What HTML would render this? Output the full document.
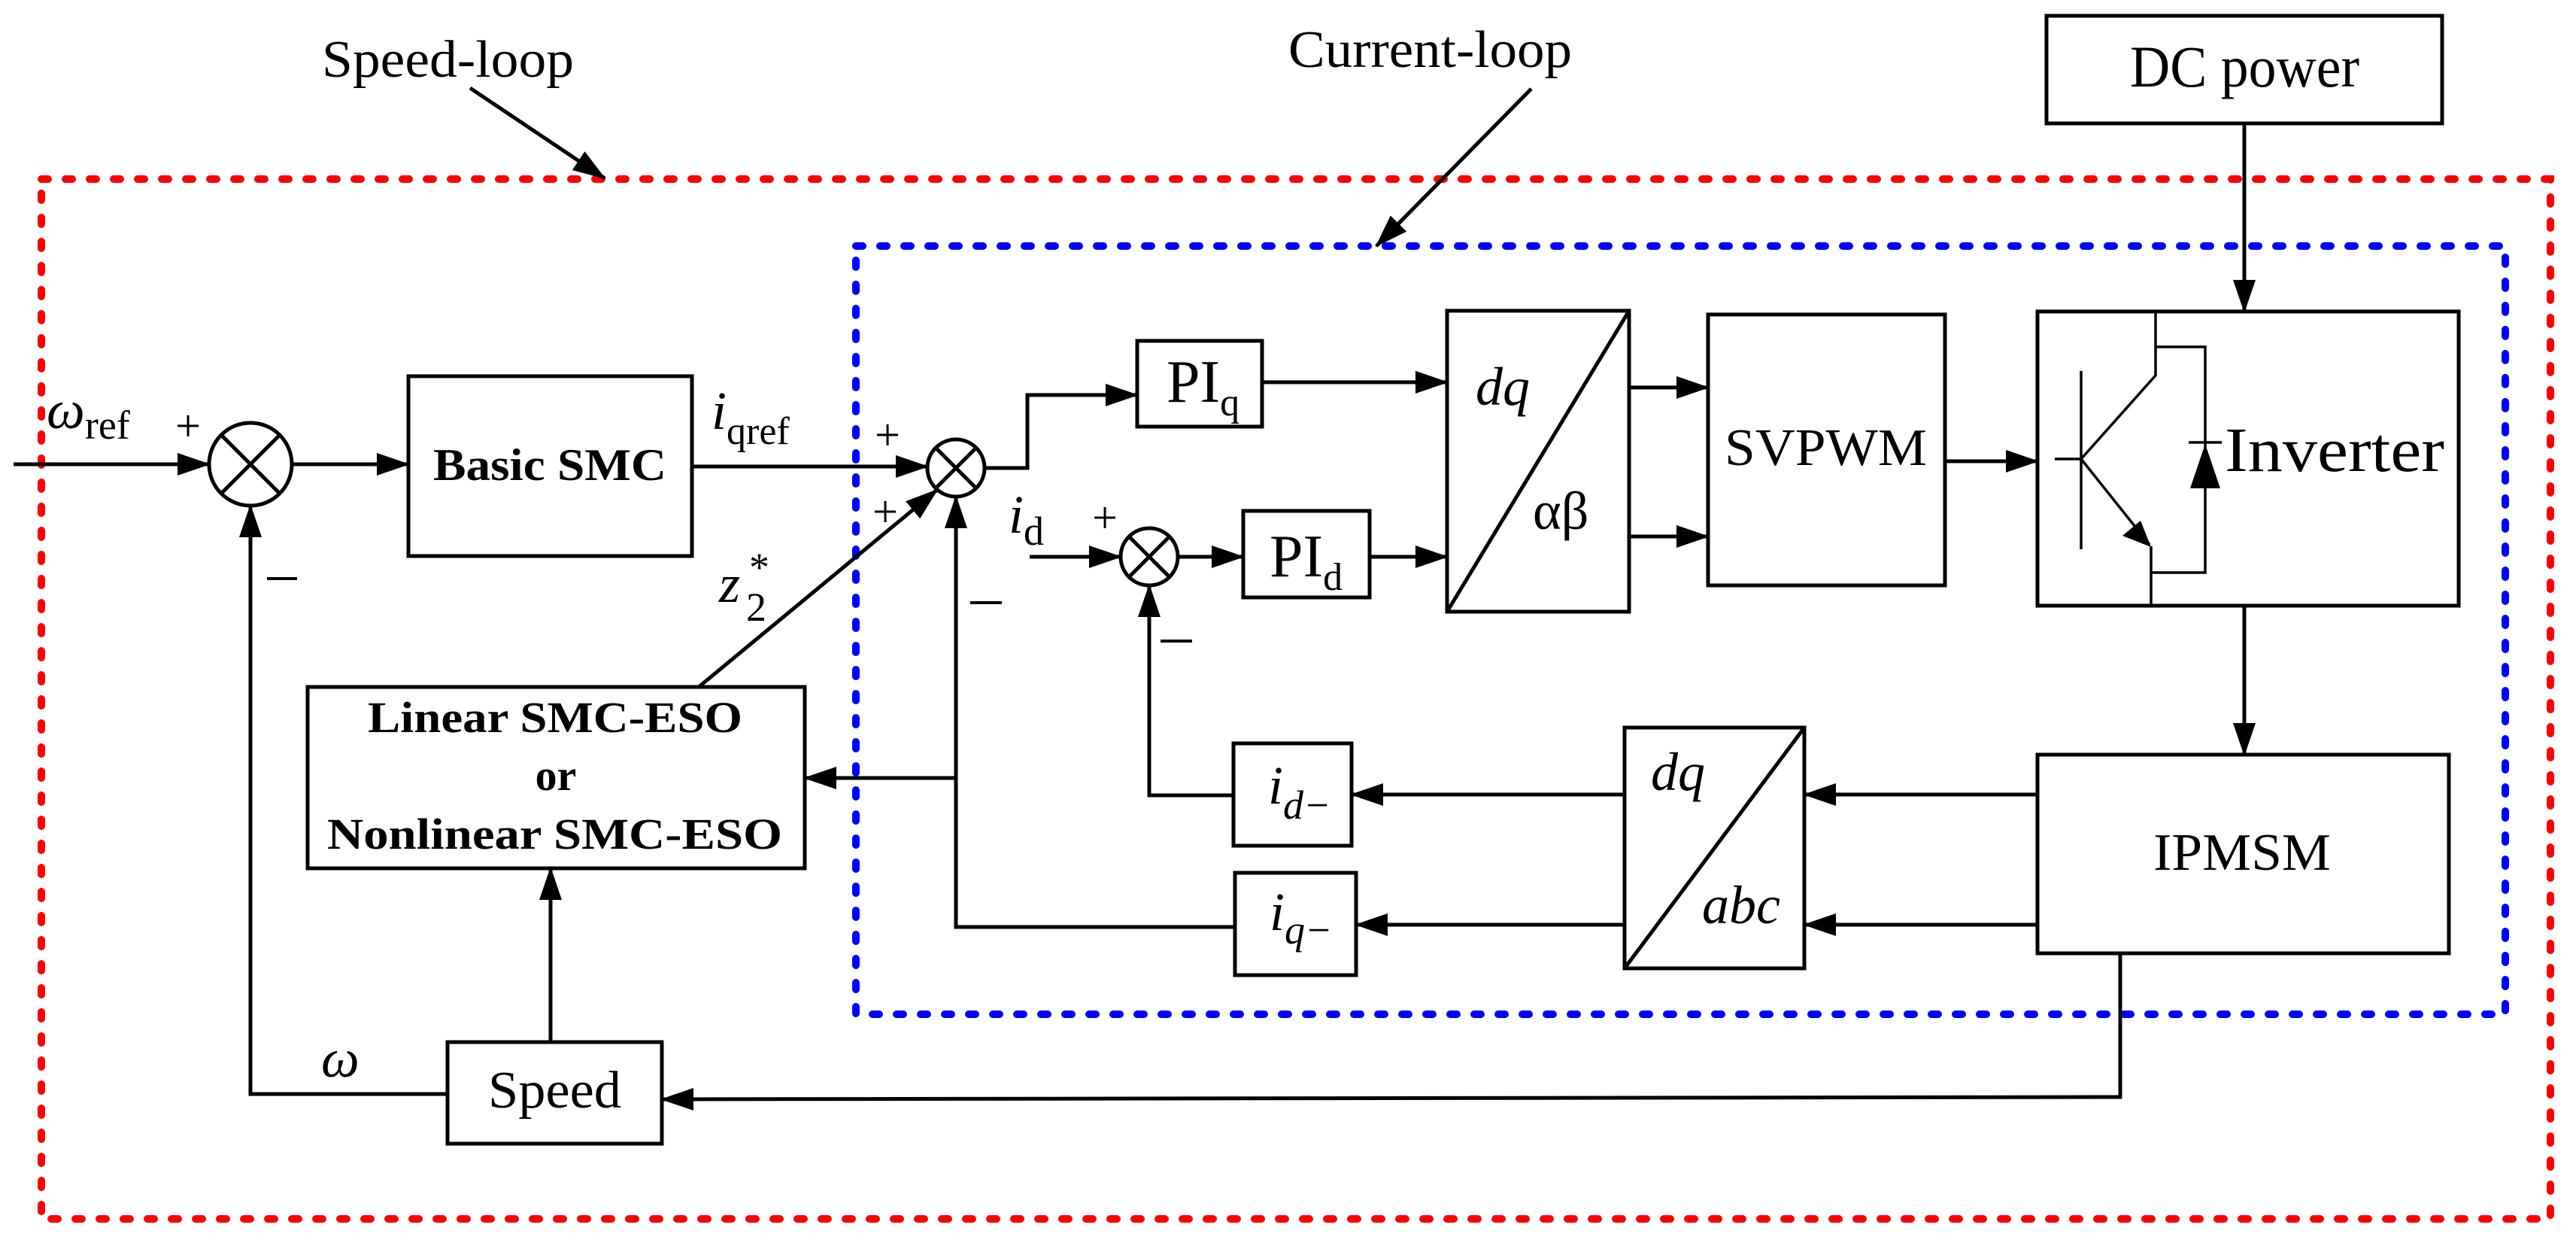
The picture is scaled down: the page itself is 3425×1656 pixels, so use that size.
<!DOCTYPE html>
<html><head><meta charset="utf-8"><style>html,body{margin:0;padding:0;background:#fff}svg{display:block}</style></head>
<body>
<svg width="3425" height="1656" viewBox="0 0 3425 1656" xmlns="http://www.w3.org/2000/svg" font-family="'Liberation Serif', serif">
<defs>
<marker id="a" markerUnits="userSpaceOnUse" markerWidth="44" markerHeight="30" refX="42" refY="15" orient="auto"><path d="M0,0 L44,15 L0,30 z" fill="#000"/></marker>
</defs>
<rect width="3425" height="1656" fill="#fff"/>
<rect x="55" y="238" width="3336" height="1382" fill="none" stroke="#f00" stroke-width="10" stroke-dasharray="9 23" stroke-linecap="round"/>
<rect x="1138" y="327" width="2193" height="1021" fill="none" stroke="#00f" stroke-width="10" stroke-dasharray="9 23" stroke-linecap="round"/>

<g stroke="#000" stroke-width="5" fill="none">
<line x1="625" y1="117" x2="804" y2="237" marker-end="url(#a)"/>
<line x1="2036" y1="118" x2="1830" y2="327" marker-end="url(#a)"/>
<rect x="543" y="500" width="377" height="239"/>
<rect x="409" y="913" width="661" height="241"/>
<rect x="595" y="1385" width="285" height="135"/>
<rect x="1512" y="453" width="166" height="114"/>
<rect x="1653" y="679" width="168" height="115"/>
<rect x="1924" y="413" width="242" height="400"/>
<line x1="1924" y1="813" x2="2166" y2="413"/>
<rect x="2271" y="418" width="315" height="360"/>
<rect x="2709" y="414" width="560" height="391"/>
<rect x="2721" y="21" width="526" height="143"/>
<rect x="2709" y="1003" width="547" height="264"/>
<rect x="2160" y="967" width="239" height="320"/>
<line x1="2160" y1="1287" x2="2399" y2="967"/>
<rect x="1640" y="988" width="157" height="136"/>
<rect x="1642" y="1160" width="161" height="136"/>
<circle cx="333" cy="617" r="55"/>
<line x1="294" y1="578" x2="372" y2="656"/><line x1="372" y1="578" x2="294" y2="656"/>
<circle cx="1271" cy="622" r="38"/>
<line x1="1244" y1="595" x2="1298" y2="649"/><line x1="1298" y1="595" x2="1244" y2="649"/>
<circle cx="1528" cy="740" r="38"/>
<line x1="1501" y1="713" x2="1555" y2="767"/><line x1="1555" y1="713" x2="1501" y2="767"/>
<line x1="18" y1="617" x2="278" y2="617" marker-end="url(#a)"/>
<line x1="388" y1="617" x2="543" y2="617" marker-end="url(#a)"/>
<line x1="920" y1="620" x2="1233" y2="620" marker-end="url(#a)"/>
<polyline points="1309,622 1366,622 1366,525 1512,525" marker-end="url(#a)"/>
<line x1="1678" y1="508" x2="1924" y2="508" marker-end="url(#a)"/>
<line x1="1369" y1="740" x2="1490" y2="740" marker-end="url(#a)"/>
<line x1="1566" y1="740" x2="1653" y2="740" marker-end="url(#a)"/>
<line x1="1821" y1="740" x2="1924" y2="740" marker-end="url(#a)"/>
<line x1="2166" y1="515" x2="2271" y2="515" marker-end="url(#a)"/>
<line x1="2166" y1="713" x2="2271" y2="713" marker-end="url(#a)"/>
<line x1="2586" y1="613" x2="2709" y2="613" marker-end="url(#a)"/>
<line x1="2984" y1="164" x2="2984" y2="414" marker-end="url(#a)"/>
<line x1="2984" y1="805" x2="2984" y2="1003" marker-end="url(#a)"/>
<line x1="2709" y1="1056" x2="2399" y2="1056" marker-end="url(#a)"/>
<line x1="2709" y1="1229" x2="2399" y2="1229" marker-end="url(#a)"/>
<line x1="2160" y1="1056" x2="1797" y2="1056" marker-end="url(#a)"/>
<line x1="2160" y1="1229" x2="1803" y2="1229" marker-end="url(#a)"/>
<polyline points="1640,1057 1528,1057 1528,778" marker-end="url(#a)"/>
<polyline points="1642,1232 1271,1232 1271,660" marker-end="url(#a)"/>
<line x1="1271" y1="1034" x2="1070" y2="1034" marker-end="url(#a)"/>
<line x1="929" y1="913" x2="1246" y2="651" marker-end="url(#a)"/>
<line x1="732" y1="1385" x2="732" y2="1154" marker-end="url(#a)"/>
<polyline points="595,1454 333,1454 333,672" marker-end="url(#a)"/>
<polyline points="2819,1267 2819,1458 880,1461" marker-end="url(#a)"/>
</g>
<g stroke="#000" stroke-width="3.5" fill="none">
<line x1="2767" y1="493" x2="2767" y2="730"/>
<line x1="2732" y1="610" x2="2767" y2="610"/>
<polyline points="2767,610 2866,499 2866,414"/>
<polyline points="2866,461 2932,461 2932,761 2860,761"/>
<line x1="2767" y1="610" x2="2858" y2="724"/>
<line x1="2860" y1="726" x2="2860" y2="805"/>
<line x1="2910" y1="588" x2="2954" y2="588"/>
</g>
<path d="M2912,649 L2952,649 L2932,590 z" fill="#000"/>
<path d="M2860,727 L2822,712 L2846,692 z" fill="#000"/>

<g fill="#000" font-size="70">
<text x="428" y="102" textLength="335" lengthAdjust="spacingAndGlyphs">Speed-loop</text>
<text x="1713" y="89" textLength="377" lengthAdjust="spacingAndGlyphs">Current-loop</text>
<text x="2832" y="115" font-size="78" textLength="305" lengthAdjust="spacingAndGlyphs">DC power</text>
<text x="2293" y="618" textLength="269" lengthAdjust="spacingAndGlyphs">SVPWM</text>
<text x="2958" y="626" font-size="84" textLength="292" lengthAdjust="spacingAndGlyphs">Inverter</text>
<text x="2863" y="1156" textLength="236" lengthAdjust="spacingAndGlyphs">IPMSM</text>
<text x="649" y="1472" textLength="177" lengthAdjust="spacingAndGlyphs">Speed</text>
<text x="576" y="638" font-size="60" font-weight="bold" textLength="310" lengthAdjust="spacingAndGlyphs">Basic SMC</text>
<text x="489" y="973" font-size="58" font-weight="bold" textLength="498" lengthAdjust="spacingAndGlyphs">Linear SMC-ESO</text>
<text x="739" y="1050" font-size="58" font-weight="bold" text-anchor="middle">or</text>
<text x="435" y="1128" font-size="58" font-weight="bold" textLength="605" lengthAdjust="spacingAndGlyphs">Nonlinear SMC-ESO</text>
<text x="1551" y="534" font-size="80">PI<tspan font-size="52" dy="18">q</tspan></text>
<text x="1688" y="766" font-size="80">PI<tspan font-size="52" dy="18">d</tspan></text>
<text x="1962" y="538" font-style="italic" font-size="72">dq</text>
<text x="2038" y="703" font-size="72">αβ</text>
<text x="2195" y="1050" font-style="italic" font-size="72">dq</text>
<text x="2263" y="1227" font-style="italic" font-size="72">abc</text>
<text x="1686" y="1068" font-style="italic" font-size="72">i<tspan font-size="54" dy="20">d−</tspan></text>
<text x="1688" y="1236" font-style="italic" font-size="72">i<tspan font-size="54" dy="18">q−</tspan></text>
<text x="62" y="569" font-style="italic" font-size="72">ω<tspan font-style="normal" font-size="54" dy="14">ref</tspan></text>
<text x="946" y="570" font-style="italic" font-size="72">i<tspan font-style="normal" font-size="52" dy="20">qref</tspan></text>
<text x="1341" y="708" font-style="italic" font-size="72">i<tspan font-style="normal" font-size="54" dy="16">d</tspan></text>
<text x="956" y="800" font-style="italic" font-size="72">z</text>
<text x="992" y="825" font-size="54">2</text>
<text x="996" y="772" font-size="54">*</text>
<text x="427" y="1431" font-style="italic" font-size="72">ω</text>
<text x="250" y="586" font-size="60" text-anchor="middle">+</text>
<text x="1180" y="598" font-size="60" text-anchor="middle">+</text>
<text x="1177" y="700" font-size="60" text-anchor="middle">+</text>
<text x="1469" y="708" font-size="60" text-anchor="middle">+</text>
</g>
<g stroke="#000" stroke-width="4">
<line x1="355" y1="769" x2="395" y2="769"/>
<line x1="1290" y1="801" x2="1332" y2="801"/>
<line x1="1543" y1="852" x2="1585" y2="852"/>
</g>
</svg>
</body></html>
